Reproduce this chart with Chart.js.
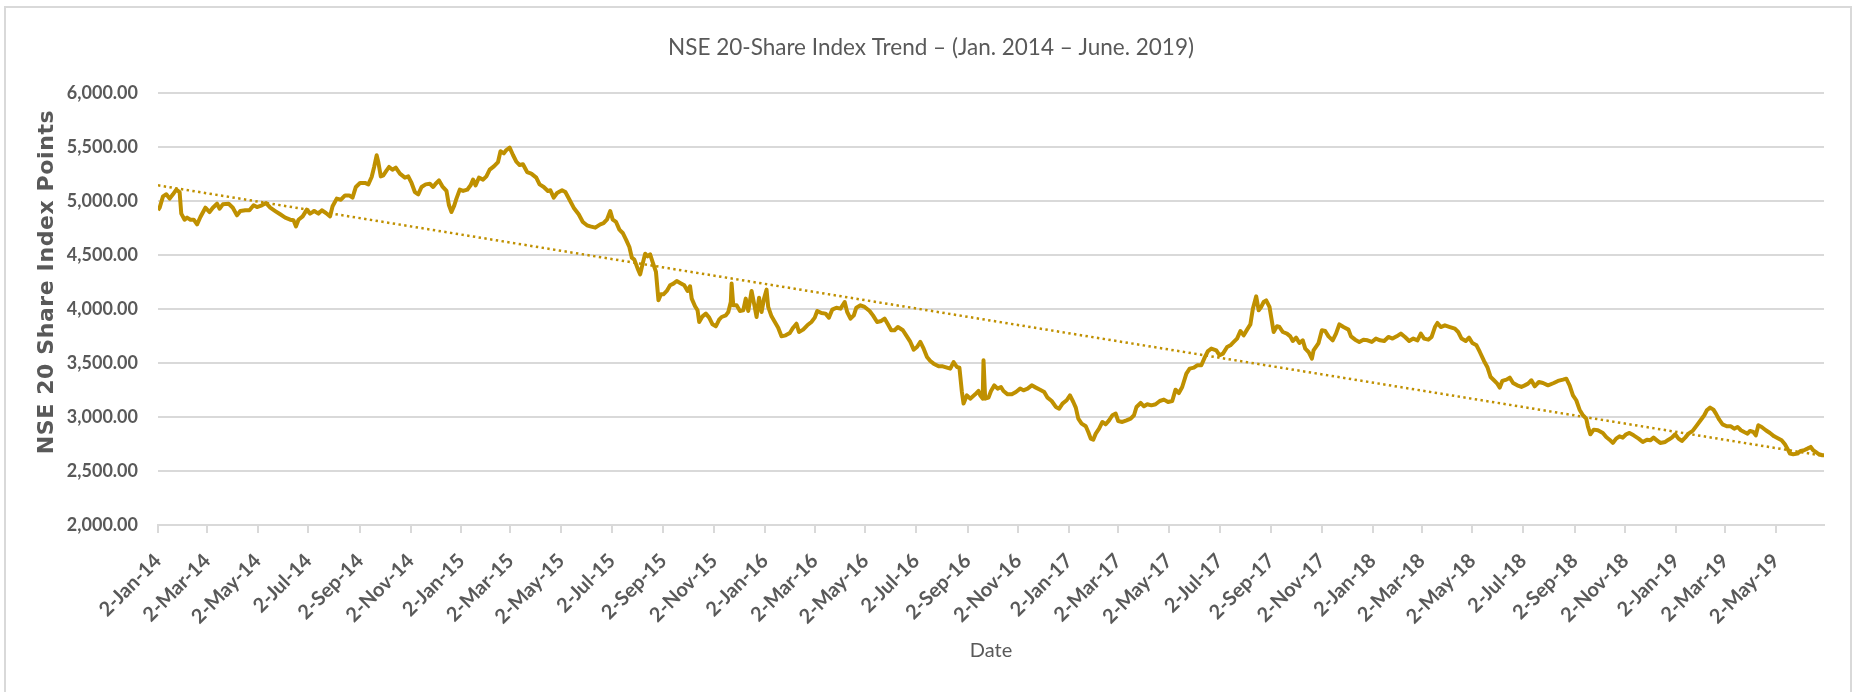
<!DOCTYPE html>
<html>
<head>
<meta charset="utf-8">
<title>NSE 20-Share Index Trend</title>
<script src="https://cdn.jsdelivr.net/npm/chart.js@4.4.1/dist/chart.umd.min.js"></script>
<style>
  html, body { margin: 0; padding: 0; background: #fff; }
  body { width: 1857px; height: 692px; overflow: hidden; position: relative; }
  #frame { position: absolute; left: 4px; top: 6px; width: 1848px; height: 720px; border: 2px solid #d9d9d9; box-sizing: border-box; }
  #wrap { position: absolute; left: 0; top: 0; width: 1857px; height: 692px; }
</style>
</head>
<body>
<div id="frame"></div>
<div id="wrap"><canvas id="nse" width="1857" height="692"></canvas></div>
<script>
/* NSE 20-Share index, Jan 2014 - Jun 2019
   x = days counted from 2-Jan-2014, y = index points */

const chartTitle = 'NSE 20-Share Index Trend – (Jan. 2014 – June. 2019)';
const yAxisTitle = 'NSE 20 Share Index Points';
const xAxisTitle = 'Date';

const tickLabels = ['2-Jan-14','2-Mar-14','2-May-14','2-Jul-14','2-Sep-14','2-Nov-14',
  '2-Jan-15','2-Mar-15','2-May-15','2-Jul-15','2-Sep-15','2-Nov-15',
  '2-Jan-16','2-Mar-16','2-May-16','2-Jul-16','2-Sep-16','2-Nov-16',
  '2-Jan-17','2-Mar-17','2-May-17','2-Jul-17','2-Sep-17','2-Nov-17',
  '2-Jan-18','2-Mar-18','2-May-18','2-Jul-18','2-Sep-18','2-Nov-18',
  '2-Jan-19','2-Mar-19','2-May-19'];

const tradingDay = [
  0,2,6,10,14,18,22,26,28,32,35,39,43,47,51,57,62,66,71,74,78,85,90,95,99,105,110,115,119,125,
  130,135,141,147,153,159,163,166,169,174,179,183,188,193,197,202,207,210,215,220,225,230,234,238,243,249,253,257,260,263,
  265,268,271,275,278,282,286,291,297,301,305,309,313,317,322,
  327,331,334,338,342,347,350,353,356,359,363,367,372,376,379,382,386,391,395,399,404,409,412,416,419,423,427,431,435,439,
  444,449,455,459,464,469,472,476,480,486,490,495,500,506,511,516,520,526,532,536,540,544,547,551,555,559,563,567,570,573,
  577,580,583,586,589,592,595,599,602,605,608,612,616,620,624,628,633,637,640,642,646,649,651,655,659,663,667,671,675,
  678,683,686,689,690,692,696,700,704,707,710,714,717,720,723,726,729,732,734,738,742,746,750,755,760,764,768,771,776,781,
  786,790,793,798,803,807,811,816,821,826,829,833,837,840,845,850,856,860,865,870,874,878,882,886,890,896,900,905,909,913,
  917,921,925,929,933,939,944,949,953,957,961,964,967,969,973,977,983,987,989,992,993,995,999,1002,
  1006,1010,1014,1017,1022,1027,1032,1037,1041,1046,1051,1056,1061,1066,1070,1075,1080,1084,1088,1093,1097,1101,1104,1107,1111,1116,1119,1122,1125,1128,
  1132,1136,1140,1144,1148,1152,1155,1160,1165,1170,1174,1177,1182,1186,1190,1195,1200,1205,1210,1215,1220,1224,1228,1232,1237,1241,1246,1250,1255,1259,
  1263,1267,1273,1277,1281,1286,1290,1294,1298,1302,1306,1310,1314,1317,1321,1324,1327,1330,1333,1337,
  1342,1346,1349,1353,1358,1362,1365,1369,1373,1377,1380,1384,1388,1390,1396,1400,1404,1408,1413,1417,1421,1426,1432,1435,1440,1445,1450,1455,1460,1465,
  1470,1475,1480,1485,1490,1495,1500,1505,1510,1515,1519,1523,1528,1532,1536,1539,1543,1548,1554,1560,1564,1568,1573,1577,1581,1586,1590,1595,1599,1603,
  1607,1611,1614,1617,1622,1626,1630,1635,1640,1644,1648,1652,1656,1661,1666,1672,
  1679,1684,1690,1694,1698,1702,1706,1710,1714,1718,1720,1723,1727,1732,1738,1742,1746,1750,1754,1758,1762,1766,1770,1775,1781,1786,1791,1795,1799,1803,
  1807,1813,1817,1821,1825,1829,1833,1837,1841,1846,1851,1856,1860,1863,1867,1871,1874,1878,1882,1887,1892,1896,1900,1904,1908,1912,1915,1919,1922,1925,
  1929,1934,1939,1944,1949,1953,1957,1960,1963,1967,1972,1976,1980,1984,1988,1991,1994,1998,2002,2004
];

const indexPoints = [
  4914,4938,5043,5062,5022,5062,5105,5083,4883,4827,4846,4827,4827,4784,4852,4938,4898,4938,4975,4929,4969,4975,4938,4867,4907,4914,4914,4960,4944,4960,
  4981,4938,4907,4877,4846,4827,4821,4765,4827,4858,4920,4883,4907,4883,4914,4889,4858,4951,5022,5012,5052,5052,5031,5130,5167,5167,5154,5222,5315,5423,
  5361,5228,5238,5284,5315,5290,5309,5253,5216,5228,5167,5083,5062,5130,5154,
  5160,5130,5160,5191,5136,5093,4960,4898,4951,5022,5105,5093,5105,5145,5198,5145,5216,5198,5228,5290,5321,5361,5460,5441,5472,5494,5426,5364,5333,5340,
  5268,5253,5216,5154,5130,5093,5099,5031,5074,5099,5083,5012,4938,4877,4806,4775,4765,4753,4784,4796,4827,4907,4827,4806,4735,4704,4642,4574,4475,4457,
  4374,4321,4420,4512,4488,4506,4435,4343,4080,4136,4136,4167,4219,4235,4259,4241,4219,4167,4210,4096,4025,3988,3880,3932,3957,3920,3858,3840,3901,
  3926,3941,3972,4065,4235,4034,4034,3982,3988,4096,3982,4167,4050,3926,4105,3972,4096,4179,4019,3932,3880,3827,3747,3756,3778,3827,3864,3787,3809,3849,
  3880,3920,3982,3963,3957,3920,3994,4012,4003,4065,3972,3911,3941,4012,4034,4019,3982,3941,3880,3889,3911,3858,3803,3803,3833,3803,3756,3695,3624,3648,
  3695,3633,3556,3519,3494,3469,3469,3457,3448,3509,3463,3457,3232,3124,3201,3170,3210,3241,3201,3170,3525,3170,3179,3241,
  3293,3263,3278,3241,3210,3210,3232,3263,3247,3263,3293,3272,3253,3232,3179,3148,3093,3077,3124,3155,3201,3139,3087,2985,2939,2914,2861,2800,2790,2846,
  2892,2954,2932,2969,3016,3031,2963,2954,2969,2985,3016,3093,3130,3099,3118,3108,3118,3148,3161,3139,3148,3253,3222,3278,3401,3448,3457,3479,3479,3550,
  3611,3633,3617,3571,3587,3648,3664,3695,3726,3796,3756,3809,3858,4003,4117,3988,4019,4065,4080,4019,
  3787,3840,3833,3787,3772,3747,3704,3735,3685,3710,3633,3602,3540,3617,3685,3803,3796,3747,3710,3772,3858,3833,3809,3747,3716,3695,3716,3710,3695,3726,
  3710,3704,3741,3726,3747,3772,3741,3704,3726,3710,3772,3726,3716,3741,3833,3871,3833,3849,3833,3818,3787,3726,3704,3735,3685,3664,3602,3519,3463,3370,
  3340,3309,3272,3334,3346,3364,3315,3293,3278,3293,3309,3340,3284,3324,3315,3293,
  3315,3334,3346,3355,3293,3201,3155,3068,3016,2985,2914,2840,2883,2877,2852,2815,2790,2760,2800,2821,2809,2840,2852,2830,2800,2769,2790,2784,2809,2784,
  2760,2769,2790,2809,2840,2800,2778,2809,2846,2871,2923,2975,3016,3062,3087,3068,3031,2975,2932,2914,2914,2892,2908,2877,2861,2846,2871,2861,2830,2923,
  2908,2877,2852,2821,2800,2784,2747,2707,2661,2655,2661,2686,2692,2707,2723,2692,2677,2655,2646,2646
];

// Excel linear trendline, start and end values
const trendDay = [0, 2004];
const trendPoints = [5145, 2640];

const GOLD = '#BF9000';
const GREY = '#595959';
const GRID = '#d9d9d9';

const MONTHS = ['Jan','Feb','Mar','Apr','May','Jun','Jul','Aug','Sep','Oct','Nov','Dec'];
const dayOf = (lbl) => {
  const [d, m, y] = lbl.split('-');
  return Math.round((Date.UTC(2000 + Number(y), MONTHS.indexOf(m), Number(d)) - Date.UTC(2014, 0, 2)) / 864e5);
};
const tickDays = tickLabels.map(dayOf);
const fmtPts = (v) => Number(v).toLocaleString('en-US', { minimumFractionDigits: 2, maximumFractionDigits: 2 });

// y-axis title drawn by hand so it can sit where Excel put it
const yTitlePlugin = {
  id: 'yTitle',
  afterDraw(chart) {
    const c = chart.ctx;
    c.save();
    c.translate(chart.scales.y.left + 9, chart.chartArea.top + 189);
    c.rotate(-Math.PI / 2);
    c.font = 'bold 22px "DejaVu Sans"';
    if ('letterSpacing' in c) c.letterSpacing = '0.6px';
    c.fillStyle = GREY;
    c.textAlign = 'center';
    c.textBaseline = 'middle';
    c.fillText(yAxisTitle, 0, 0);
    c.restore();
  }
};

new Chart(document.getElementById('nse').getContext('2d'), {
  type: 'line',
  data: {
    datasets: [
      {
        label: 'NSE 20',
        data: tradingDay.map((d, i) => ({ x: d, y: indexPoints[i] })),
        borderColor: GOLD, borderWidth: 4, pointRadius: 0, tension: 0,
        borderJoinStyle: 'round', order: 1
      },
      {
        label: 'Linear (NSE 20)',
        data: trendDay.map((d, i) => ({ x: d, y: trendPoints[i] })),
        borderColor: GOLD, borderWidth: 2.5, borderDash: [2.4, 3.4], pointRadius: 0, order: 2
      }
    ]
  },
  options: {
    responsive: false,
    animation: false,
    layout: { padding: { left: 38, right: 33, top: 0, bottom: 0 } },
    plugins: {
      legend: { display: false },
      tooltip: { enabled: false },
      title: {
        display: true, text: chartTitle, color: GREY,
        font: { family: 'Lato', size: 22.5, weight: 'normal', lineHeight: 1.2 },
        padding: { top: 34, bottom: 32 }
      }
    },
    scales: {
      x: {
        type: 'linear', min: 0, max: 2004,
        afterBuildTicks: (s) => { s.ticks = tickDays.map(v => ({ value: v })); },
        afterFit: (s) => { s.height = 167; },
        ticks: {
          autoSkip: false, minRotation: 45, maxRotation: 45, padding: 16, color: GREY,
          font: { family: 'Lato', size: 20, weight: 'bold' },
          callback: (v, i) => tickLabels[i]
        },
        grid: { drawOnChartArea: false, drawTicks: true, tickLength: 8, color: GRID, lineWidth: 2 },
        border: { color: GRID, width: 2 },
        title: {
          display: true, text: xAxisTitle, color: GREY,
          font: { family: 'Lato', size: 20, weight: 'normal', lineHeight: 1.2 },
          padding: { top: 0, bottom: 29 }
        }
      },
      y: {
        min: 2000, max: 6000,
        afterFit: (s) => { s.width = 120; },
        ticks: {
          stepSize: 500, padding: 20, color: GREY,
          font: { family: 'Lato', size: 18, weight: 'bold' },
          callback: (v) => fmtPts(v)
        },
        grid: { color: GRID, lineWidth: 2, drawTicks: false },
        border: { display: false }
      }
    }
  },
  plugins: [yTitlePlugin]
});
</script>
</body>
</html>
